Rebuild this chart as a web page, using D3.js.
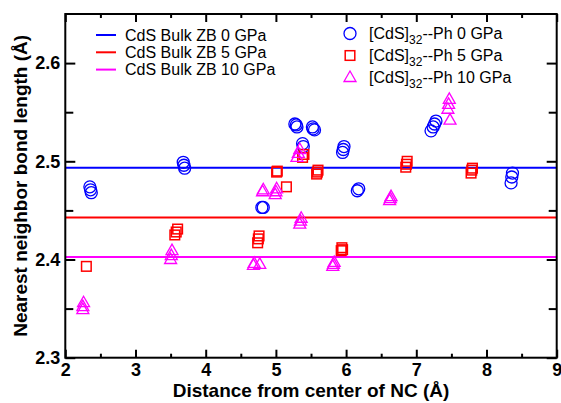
<!DOCTYPE html>
<html>
<head>
<meta charset="utf-8">
<script src="https://cdn.jsdelivr.net/npm/d3@7"></script>
<style>
body { margin: 0; background: #fff; }
svg { font-family: "Liberation Sans", Arial, sans-serif; }
</style>
</head>
<body>
<svg id="chart" width="561" height="403"></svg>
<script>
// bulk reference values
var bulkLabels = ["CdS Bulk ZB 0 GPa", "CdS Bulk ZB 5 GPa", "CdS Bulk ZB 10 GPa"];
var bulkValues = [2.4935, 2.4427, 2.4026];

// nanocluster series
var ncLabels = ["0 GPa", "5 GPa", "10 GPa"];

var p0x = [2.35, 2.36, 2.37, 3.68, 3.69, 3.70, 5.27, 5.29, 5.30, 5.52, 5.53, 5.55, 5.38, 5.39,
           5.95, 5.96, 5.97, 6.16, 6.18, 4.80, 4.82, 7.21, 7.24, 7.26, 7.28, 8.35, 8.36, 8.37];
var p0y = [2.474, 2.471, 2.468, 2.499, 2.496, 2.493, 2.538, 2.537, 2.535, 2.535, 2.533, 2.532, 2.518, 2.515,
           2.509, 2.512, 2.515, 2.470, 2.472, 2.453, 2.453, 2.531, 2.535, 2.538, 2.541, 2.478, 2.484, 2.488];

var p5x = [2.30, 3.56, 3.58, 3.60, 4.74, 4.75, 4.76, 5.01, 5.02, 5.15, 5.38, 5.40, 5.58, 5.59, 5.60,
           5.93, 5.94, 5.95, 6.85, 6.86, 6.87, 7.78, 7.79, 7.80];
var p5y = [2.393, 2.425, 2.428, 2.431, 2.417, 2.421, 2.424, 2.489, 2.490, 2.474, 2.504, 2.507, 2.487, 2.489, 2.491,
           2.409, 2.412, 2.410, 2.494, 2.497, 2.500, 2.488, 2.491, 2.493];

var p10x = [2.25, 2.25, 2.26, 3.50, 3.51, 3.52, 4.68, 4.69, 4.77, 4.81, 4.82, 4.99, 5.00, 5.01,
            5.30, 5.32, 5.34, 5.34, 5.35, 5.36, 5.81, 5.82, 5.83, 6.62, 6.63, 6.64, 7.45, 7.46, 7.47, 7.48];
var p10y = [2.349, 2.352, 2.356, 2.400, 2.404, 2.409, 2.394, 2.396, 2.395, 2.469, 2.471, 2.466, 2.469, 2.472,
            2.504, 2.508, 2.512, 2.436, 2.439, 2.442, 2.393, 2.395, 2.397, 2.460, 2.462, 2.464, 2.553, 2.558, 2.563, 2.542];

var xTicks = [2, 3, 4, 5, 6, 7, 8, 9];
var yTicks = [2.3, 2.4, 2.5, 2.6];

var colors = ["#0000ff", "#ff0000", "#ff00ff"];

var svg = d3.select("#chart");
var _left = 65.3, _right = 556.7, _top = 14, _bottom = 357.7;

var x = d3.scaleLinear().domain([2, 9]).range([_left, _right]);
var y = d3.scaleLinear().domain([2.3, 2.65]).range([_bottom, _top]);

var xMinor = d3.range(2.5, 9, 1);
var yMinor = [2.35, 2.45, 2.55];

// minor ticks first
function minorAxis(axis, scale, vals, size) {
    return axis(scale).tickValues(vals).tickSize(size).tickFormat("");
}
svg.append("g").attr("transform", "translate(0," + _bottom + ")")
    .call(minorAxis(d3.axisBottom, x, xMinor, -4));
svg.append("g").attr("transform", "translate(0," + _top + ")")
    .call(minorAxis(d3.axisTop, x, xMinor, -4));
svg.append("g").attr("transform", "translate(" + _left + ",0)")
    .call(minorAxis(d3.axisLeft, y, yMinor, -8));
svg.append("g").attr("transform", "translate(" + _right + ",0)")
    .call(minorAxis(d3.axisRight, y, yMinor, -8));

// major ticks
svg.append("g").attr("class", "xa").attr("transform", "translate(0," + _bottom + ")")
    .call(d3.axisBottom(x).tickValues(xTicks).tickSize(-8).tickPadding(6).tickFormat(d3.format("d")));
svg.append("g").attr("transform", "translate(0," + _top + ")")
    .call(d3.axisTop(x).tickValues(xTicks).tickSize(-8).tickFormat(""));
svg.append("g").attr("class", "ya").attr("transform", "translate(" + _left + ",0)")
    .call(d3.axisLeft(y).tickValues(yTicks).tickSize(-10).tickPadding(5).tickFormat(d3.format(".1f")));
svg.append("g").attr("transform", "translate(" + _right + ",0)")
    .call(d3.axisRight(y).tickValues(yTicks).tickSize(-10).tickFormat(""));

svg.selectAll(".domain").remove();
svg.selectAll(".tick line").attr("stroke", "#000").attr("stroke-width", 2);
svg.selectAll(".tick text").attr("fill", "#000")
    .style("font-size", "18px").style("font-weight", "bold");

// bulk lines
bulkValues.forEach(function(v, i) {
    svg.append("line")
        .attr("x1", _left).attr("x2", _right)
        .attr("y1", y(v)).attr("y2", y(v))
        .attr("stroke", colors[i]).attr("stroke-width", 2);
});

// markers
var sym = {
    circle: function(g, cx, cy, c) {
        g.append("circle").attr("cx", cx).attr("cy", cy).attr("r", 6)
            .attr("fill", "none").attr("stroke", c).attr("stroke-width", 1.3);
    },
    square: function(g, cx, cy, c) {
        g.append("rect").attr("x", cx - 4.8).attr("y", cy - 4.8).attr("width", 9.6).attr("height", 9.6)
            .attr("fill", "none").attr("stroke", c).attr("stroke-width", 1.5);
    },
    triangle: function(g, cx, cy, c) {
        g.append("path").attr("d", "M" + cx + "," + (cy - 6.5) + "L" + (cx + 6) + "," + (cy + 4) + "L" + (cx - 6) + "," + (cy + 4) + "Z")
            .attr("fill", "none").attr("stroke", c).attr("stroke-width", 1.3);
    }
};

var series = [[p0x, p0y, "circle"], [p5x, p5y, "square"], [p10x, p10y, "triangle"]];
var pts = svg.append("g");
series.forEach(function(s, i) {
    s[0].forEach(function(xv, j) {
        sym[s[2]](pts, x(xv), y(s[1][j]), colors[i]);
    });
});

// frame
svg.append("rect").attr("x", _left).attr("y", _top)
    .attr("width", _right - _left).attr("height", _bottom - _top)
    .attr("fill", "none").attr("stroke", "#000").attr("stroke-width", 2);

// legend left
var lg = svg.append("g");
bulkLabels.forEach(function(t, i) {
    var ly = 35 + i * 17.3;
    lg.append("line").attr("x1", 96).attr("x2", 116).attr("y1", ly).attr("y2", ly)
        .attr("stroke", colors[i]).attr("stroke-width", 2);
    lg.append("text").attr("x", 125).attr("y", ly + 5.5).text(t)
        .style("font-size", "16px");
});

// legend right
var symNames = ["circle", "square", "triangle"];
ncLabels.forEach(function(t, i) {
    var ly = 33.5 + i * 22;
    sym[symNames[i]](lg, 350, ly, colors[i]);
    var tx = lg.append("text").attr("x", 369).attr("y", ly + 5.5).style("font-size", "16px");
    tx.append("tspan").text("[CdS]");
    tx.append("tspan").attr("dy", 5).style("font-size", "12px").text("32");
    tx.append("tspan").attr("dy", -5).text("--Ph " + t);
});

// axis titles
svg.append("text").attr("x", (_left + _right) / 2).attr("y", 397)
    .attr("text-anchor", "middle").style("font-size", "19px").style("font-weight", "bold")
    .text("Distance from center of NC (Å)");
svg.append("text").attr("transform", "translate(27," + (_top + _bottom) / 2 + ") rotate(-90)")
    .attr("text-anchor", "middle").style("font-size", "19px").style("font-weight", "bold")
    .text("Nearest neighbor bond length (Å)");
</script>
</body>
</html>
